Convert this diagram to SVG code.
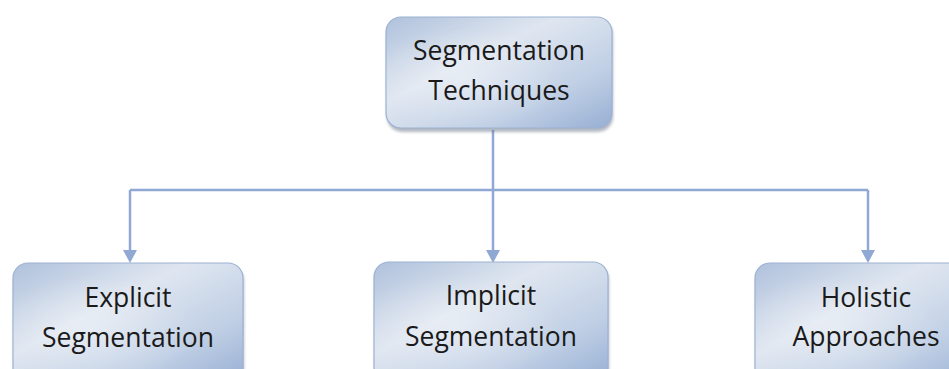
<svg xmlns="http://www.w3.org/2000/svg" width="949" height="369" viewBox="0 0 949 369">
  <style>
    .box { fill: url(#boxFill); stroke: #9cb1d2; stroke-width: 1.2; }
    .shine { fill: url(#boxShine); }
    .shadow { fill: #55647a; opacity: 0.45; filter: url(#soft); }
    .label { font-family: "Open Sans", "Noto Sans", "DejaVu Sans", sans-serif; font-size: 26.5px; fill: #1a1a1a; text-anchor: middle; }
    .link { fill: none; stroke: #90a9d4; stroke-width: 2.5; }
    .head { fill: #90a9d4; }
  </style>
  <defs>
    <linearGradient id="boxFill" x1="0" y1="0" x2="1" y2="1">
      <stop offset="0" stop-color="#afc1dc"/>
      <stop offset="0.38" stop-color="#dfe6f0"/>
      <stop offset="0.72" stop-color="#c0cfe5"/>
      <stop offset="1" stop-color="#97afd4"/>
    </linearGradient>
    <radialGradient id="boxShine" cx="0.35" cy="0.55" r="0.45">
      <stop offset="0" stop-color="#ffffff" stop-opacity="0.35"/>
      <stop offset="1" stop-color="#ffffff" stop-opacity="0"/>
    </radialGradient>
    <filter id="soft" x="-10%" y="-10%" width="120%" height="130%">
      <feGaussianBlur stdDeviation="1.8"/>
    </filter>
  </defs>

  <!-- connectors: trunk, bus and three drops with arrowheads -->
  <g id="connectors">
    <path class="link" d="M493 130 V190"/>
    <path class="link" d="M130 190 H868"/>
    <path class="link" d="M130 190 V251"/>
    <path class="link" d="M493 190 V251"/>
    <path class="link" d="M868 190 V251"/>
    <path class="head" d="M123 250 L137 250 L130 263 Z"/>
    <path class="head" d="M486 250 L500 250 L493 263 Z"/>
    <path class="head" d="M861 250 L875 250 L868 263 Z"/>
  </g>

  <!-- root -->
  <g id="segmentation-techniques">
    <rect class="shadow" x="387" y="20" width="226" height="112" rx="15"/>
    <rect class="box" x="386" y="17" width="226" height="111" rx="15"/>
    <rect class="shine" x="386" y="17" width="226" height="111" rx="15"/>
    <text class="label" x="499" y="60">Segmentation</text>
    <text class="label" x="499" y="100">Techniques</text>
  </g>

  <g id="explicit-segmentation">
    <rect class="shadow" x="14" y="266" width="230" height="120" rx="15"/>
    <rect class="box" x="13" y="263" width="230" height="120" rx="15"/>
    <rect class="shine" x="13" y="263" width="230" height="120" rx="15"/>
    <text class="label" x="128" y="307">Explicit</text>
    <text class="label" x="128" y="347">Segmentation</text>
  </g>

  <g id="implicit-segmentation">
    <rect class="shadow" x="375" y="265" width="234" height="120" rx="15"/>
    <rect class="box" x="374" y="262" width="234" height="120" rx="15"/>
    <rect class="shine" x="374" y="262" width="234" height="120" rx="15"/>
    <text class="label" x="491" y="305">Implicit</text>
    <text class="label" x="491" y="346">Segmentation</text>
  </g>

  <g id="holistic-approaches">
    <rect class="shadow" x="756" y="266" width="230" height="120" rx="15"/>
    <rect class="box" x="755" y="263" width="230" height="120" rx="15"/>
    <rect class="shine" x="755" y="263" width="230" height="120" rx="15"/>
    <text class="label" x="866" y="307">Holistic</text>
    <text class="label" x="866" y="346">Approaches</text>
  </g>
</svg>
